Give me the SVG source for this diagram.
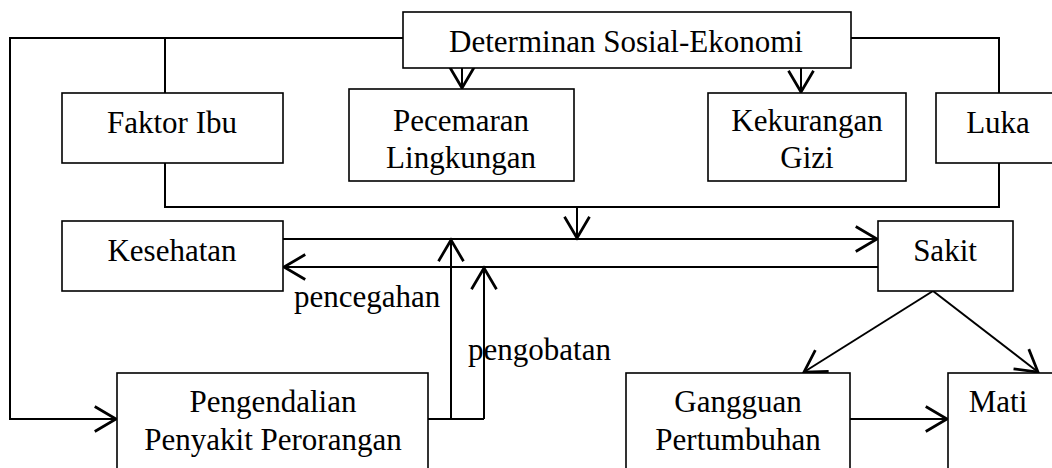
<svg xmlns="http://www.w3.org/2000/svg" width="1052" height="468" viewBox="0 0 1052 468">
<style>
.box{fill:#fff;stroke:#000;stroke-width:1.6}
.ln{fill:none;stroke:#000;stroke-width:2}
.t{font-family:"Liberation Serif","Times New Roman",serif;font-size:31px;fill:#000}
.c{text-anchor:middle}
</style>
<defs>
<marker id="ah" markerUnits="userSpaceOnUse" markerWidth="30" markerHeight="30" viewBox="-20 -12 22 24" refX="0" refY="0" orient="auto">
<path d="M-17,-10 L0,0 L-17,10" fill="none" stroke="#000" stroke-width="2.2"/>
</marker>
</defs>
<rect width="1052" height="468" fill="#fff"/>
<g id="connectors">
<polyline class="ln" points="403,38 10,38 10,419 116,419" marker-end="url(#ah)"/>
<line class="ln" x1="165" y1="38" x2="165" y2="93"/>
<polyline class="ln" points="851,38 999,38 999,93"/>
<line class="ln" x1="462" y1="68" x2="462" y2="88" marker-end="url(#ah)"/>
<line class="ln" x1="801" y1="68" x2="801" y2="92" marker-end="url(#ah)"/>
<polyline class="ln" points="165,163 165,207 999,207 999,163"/>
<line class="ln" x1="577" y1="207" x2="577" y2="238" marker-end="url(#ah)"/>
<line class="ln" x1="283" y1="239" x2="877" y2="239" marker-end="url(#ah)"/>
<line class="ln" x1="878" y1="267" x2="284" y2="267" marker-end="url(#ah)"/>
<line class="ln" x1="428" y1="419" x2="484" y2="419"/>
<line class="ln" x1="451" y1="419" x2="451" y2="240" marker-end="url(#ah)"/>
<line class="ln" x1="484" y1="419" x2="484" y2="268" marker-end="url(#ah)"/>
<line class="ln" x1="933" y1="291" x2="804" y2="372" marker-end="url(#ah)"/>
<line class="ln" x1="933" y1="291" x2="1038" y2="372" marker-end="url(#ah)"/>
<line class="ln" x1="850" y1="419" x2="947" y2="419" marker-end="url(#ah)"/>
</g>
<g id="determinan">
<rect class="box" x="403" y="12" width="448" height="56"/>
<text class="t c" x="626" y="52">Determinan Sosial-Ekonomi</text>
</g>
<g id="faktor-ibu">
<rect class="box" x="62" y="93" width="221" height="70"/>
<text class="t c" x="172" y="133">Faktor Ibu</text>
</g>
<g id="pecemaran">
<rect class="box" x="349" y="89" width="225" height="92"/>
<text class="t c" x="461" y="131">Pecemaran</text>
<text class="t c" x="461" y="168">Lingkungan</text>
</g>
<g id="kekurangan-gizi">
<rect class="box" x="708" y="93" width="198" height="88"/>
<text class="t c" x="807" y="131">Kekurangan</text>
<text class="t c" x="807" y="168">Gizi</text>
</g>
<g id="luka">
<rect class="box" x="936" y="93" width="130" height="70"/>
<text class="t c" x="998" y="133">Luka</text>
</g>
<g id="kesehatan">
<rect class="box" x="62" y="221" width="221" height="70"/>
<text class="t c" x="172" y="261">Kesehatan</text>
</g>
<g id="sakit">
<rect class="box" x="878" y="221" width="135" height="70"/>
<text class="t c" x="945" y="261">Sakit</text>
</g>
<g id="labels">
<text class="t" x="294" y="307">pencegahan</text>
<text class="t" x="468" y="360">pengobatan</text>
</g>
<g id="pengendalian">
<rect class="box" x="117" y="373" width="311" height="110"/>
<text class="t c" x="273" y="412">Pengendalian</text>
<text class="t c" x="273" y="450">Penyakit Perorangan</text>
</g>
<g id="gangguan">
<rect class="box" x="626" y="373" width="224" height="110"/>
<text class="t c" x="738" y="412">Gangguan</text>
<text class="t c" x="738" y="450">Pertumbuhan</text>
</g>
<g id="mati">
<rect class="box" x="948" y="373" width="120" height="110"/>
<text class="t c" x="998" y="412">Mati</text>
</g>
</svg>
